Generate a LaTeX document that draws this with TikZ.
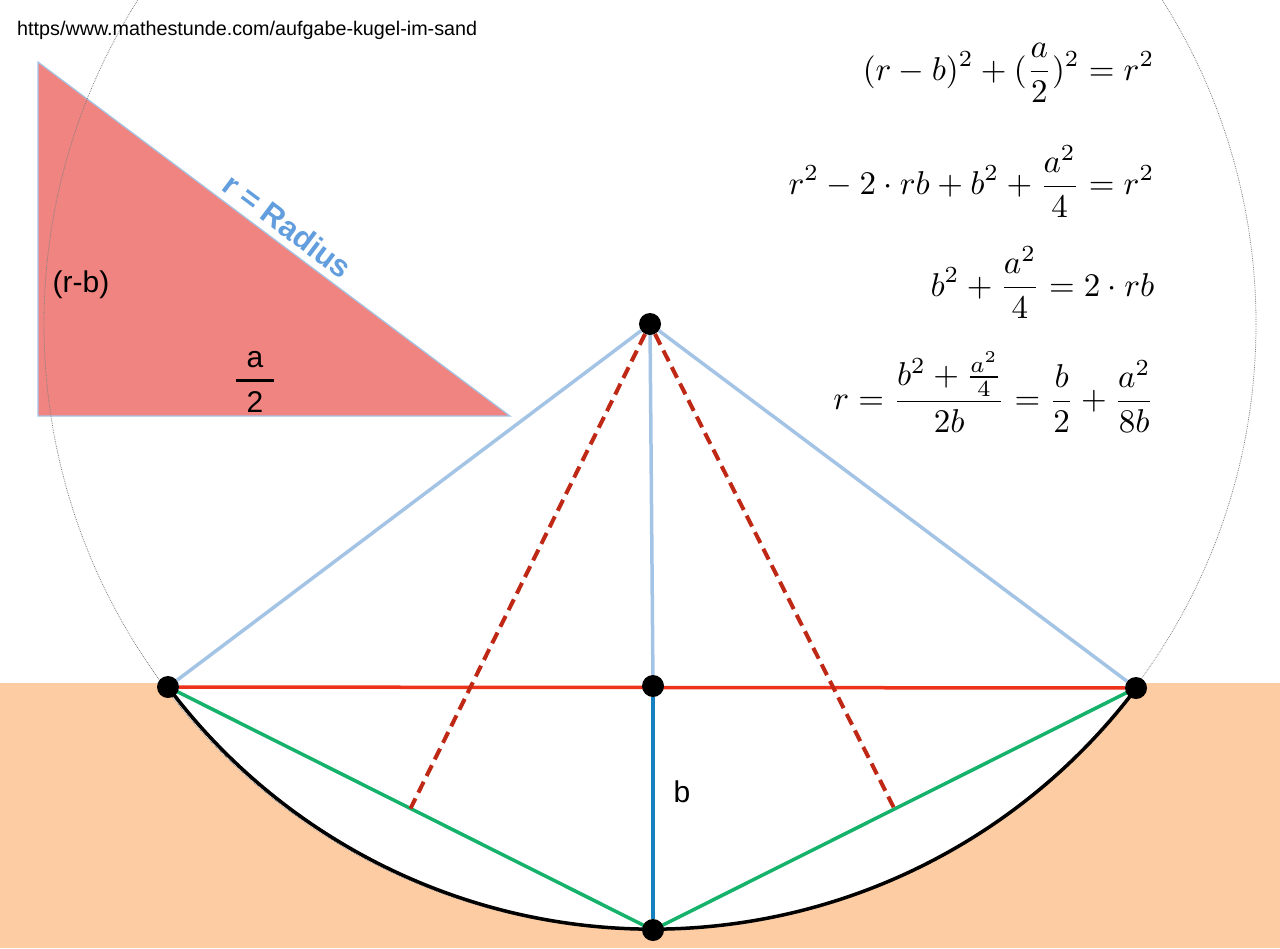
\documentclass[tikz,border=0pt]{standalone}
\usepackage{amsmath}
\usepackage{fontspec}
\setmainfont{Liberation Sans}
\usetikzlibrary{backgrounds,calc,positioning}

\definecolor{sand}{RGB}{253,204,162}
\definecolor{dreieckrot}{RGB}{240,132,128}
\definecolor{hellblau}{RGB}{164,196,230}
\definecolor{radiusblau}{RGB}{98,158,222}
\definecolor{tiefblau}{RGB}{22,128,192}
\definecolor{sehnenrot}{RGB}{236,50,26}
\definecolor{gruen}{RGB}{20,178,106}
\definecolor{strichrot}{RGB}{192,40,22}

\begin{document}
\begin{tikzpicture}[x=1pt,y=-1pt,
    punkt/.style={circle,fill=black,inner sep=0pt,minimum size=22pt},
    radiuslinie/.style={draw=hellblau,line width=3.5pt},
    beschriftung/.style={font=\fontsize{30}{36}\selectfont,inner sep=0pt},
    gleichung/.style={scale=3.3,anchor=base east,inner sep=0pt}]
    \useasboundingbox (0,0) rectangle (1280,948);

    \node[punkt] (mitte) at (650,324) {};
    \node[punkt] (links) at (168,687) {};
    \node[punkt] (sehne) at (653,686) {};
    \node[punkt] (rechts) at (1136,688) {};
    \node[punkt] (fuss) at (653,930) {};

    \coordinate (halblinks) at ($(links)!0.5!(fuss)$);
    \coordinate (halbrechts) at ($(rechts)!0.5!(fuss)$);

    % Dreieck
    \coordinate (spitze) at (38,62);
    \coordinate (ecke) at (38,416);
    \coordinate (dreieckrechts) at (510,416);

    \begin{scope}[on background layer]
      % Sand und Kugelabdruck
      \fill[sand] (0,683) rectangle (1280,948);
      \begin{scope}
        \clip (0,683) rectangle (1280,948);
        \fill[white] (mitte) circle (606);
      \end{scope}
      \draw[fill=dreieckrot,draw=hellblau,line width=1.2pt] (spitze) -- (ecke) -- (dreieckrechts) -- cycle;
      \draw[gray,line width=0.8pt,densely dotted] (mitte) circle (606);

      \draw[line width=3.5pt] (links.center) arc[start angle=143.1,end angle=36.8,radius=606];
      \draw[radiuslinie] (mitte) -- (links);
      \draw[radiuslinie] (mitte) -- (rechts);
      \draw[radiuslinie] (mitte) -- (sehne);
      \draw[draw=tiefblau,line width=3.5pt] (sehne) -- (fuss);
      \draw[draw=sehnenrot,line width=3.5pt] (links) -- (rechts);
      \draw[draw=gruen,line width=3.5pt] (links.center) -- (fuss.center) -- (rechts.center);
      \foreach \ziel in {halblinks,halbrechts}
        \draw[draw=strichrot,line width=4pt,dash pattern=on 12pt off 6.5pt] (mitte) -- (\ziel);
    \end{scope}

    % Texte
    \node[anchor=base west,inner sep=0pt,font=\fontsize{19.75}{24}\selectfont] (quelle) at (17,35)
      {https/www.mathestunde.com/aufgabe-kugel-im-sand};
    \path (spitze) -- (dreieckrechts)
      node[sloped,pos=0.505,above=5pt,inner sep=2pt,text=radiusblau,
           font=\fontsize{31}{36}\selectfont\bfseries] (radius) {r = Radius};
    \node[beschriftung] (hoehe) at (81,285) {(r-b)};
    \node[scale=3,inner sep=0pt] (halbe) at (255,382)
      {$\genfrac{}{}{1pt}{0}{\makebox[12.5pt]{\text{a}}}{\text{2}}$};
    \node[beschriftung] (tiefe) at (682,792) {b};

    \node[gleichung] (gl1) at (1155,80) {$\displaystyle (r-b)^2+(\frac{a}{2})^2=r^2$};
    \node[gleichung] (gl2) at (1155,194.5) {$\displaystyle r^2-2\cdot rb+b^2+\frac{a^2}{4}=r^2$};
    \node[gleichung] (gl3) at (1155,296) {$\displaystyle b^2+\frac{a^2}{4}=2\cdot rb$};
    \node[gleichung] (gl4) at (1155,409.5) {$\displaystyle r=\frac{b^2+\frac{a^2}{4}}{2b}=\frac{b}{2}+\frac{a^2}{8b}$};
\end{tikzpicture}
\end{document}
